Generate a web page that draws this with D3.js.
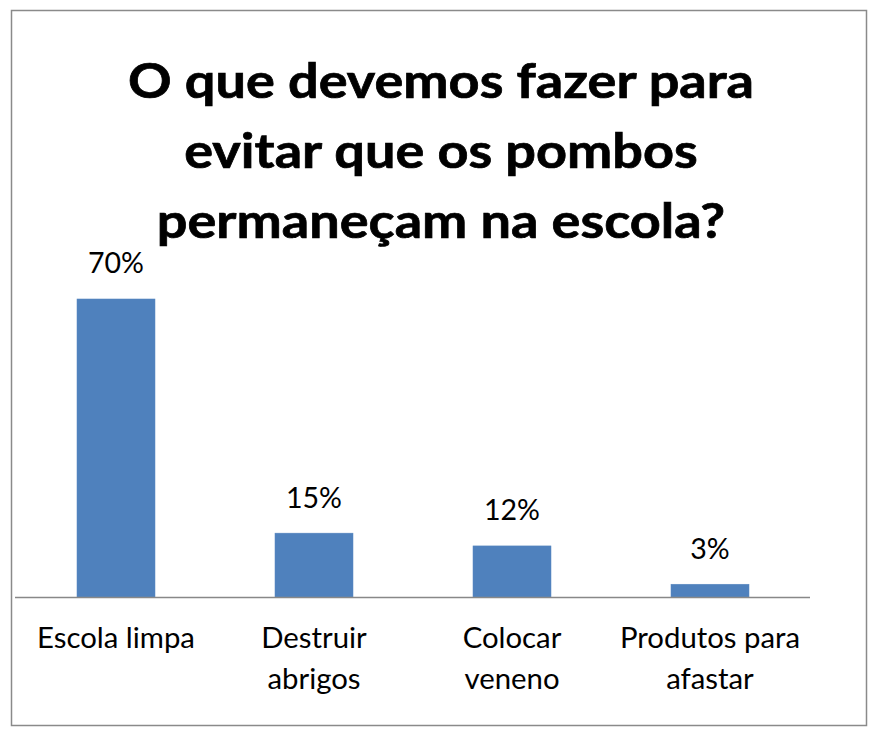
<!DOCTYPE html>
<html><head><meta charset="utf-8">
<script src="https://cdn.jsdelivr.net/npm/d3@7"></script>
<style>body{margin:0;background:#fff}svg{display:block}</style>
</head><body>
<script>
const categories = [["Escola limpa"], ["Destruir", "abrigos"], ["Colocar", "veneno"], ["Produtos para", "afastar"]];
const values = [70, 15, 12, 3];
const valueLabels = ["70%", "15%", "12%", "3%"];
const titleLines = ["O que devemos fazer para", "evitar que os pombos", "permaneçam na escola?"];

const W = 875, H = 736;
const svg = d3.select("body").append("svg").attr("width", W).attr("height", H);
const font = "Lato, 'Open Sans', sans-serif";

svg.append("rect").attr("x", 11.5).attr("y", 10.5).attr("width", 855).attr("height", 715)
  .attr("fill", "#fff").attr("stroke", "#8a8a8a").attr("stroke-width", 1.5);

const keys = categories.map(c => c.join(" "));
const x = d3.scaleBand().domain(keys).range([17, 809]).paddingInner(0.606).paddingOuter(0.303);
const y = d3.scaleLinear().domain([0, 80]).range([597, 256.4]);

// title
const tl = svg.append("g").selectAll("text").data(titleLines).join("text")
  .attr("x", 441).attr("y", (d, i) => 98 + i * 70)
  .attr("text-anchor", "middle").attr("font-family", font).attr("font-weight", "bold")
  .attr("font-size", 48).attr("fill", "#000").attr("stroke", "#000").attr("stroke-width", 0.7)
  .text(d => d);
const w0 = tl.nodes()[0].getComputedTextLength();
const tk = 626 / w0;
tl.each(function() { const n = this; d3.select(n).attr("textLength", n.getComputedTextLength() * tk).attr("lengthAdjust", "spacingAndGlyphs"); });

// bars
svg.selectAll("rect.bar").data(values).join("rect").attr("class", "bar")
  .attr("x", (d, i) => x(keys[i])).attr("width", x.bandwidth())
  .attr("y", d => y(d)).attr("height", d => y(0) - y(d))
  .attr("fill", "#4F81BD").attr("stroke", "#5a88c0").attr("stroke-width", 0.5);

// value labels
const vl = svg.selectAll("text.val").data(values).join("text").attr("class", "val")
  .attr("x", (d, i) => x(keys[i]) + x.bandwidth() / 2).attr("y", d => y(d) - 25.5)
  .attr("text-anchor", "middle").attr("font-family", font).attr("font-size", 23)
  .attr("fill", "#000").text((d, i) => valueLabels[i]);
const vw = vl.nodes()[0].getComputedTextLength();
vl.attr("font-size", 23 * 56 / vw);

// axis
const ax = svg.append("g").attr("transform", `translate(0,${y(0)})`)
  .call(d3.axisBottom(x).tickSize(0).tickFormat(""));
ax.select(".domain").attr("stroke", "#888").attr("stroke-width", 1.5).attr("d", "M15,0.5H810");

const cl = svg.selectAll("text.cat").data(categories).join("text").attr("class", "cat")
  .attr("text-anchor", "middle").attr("font-family", font).attr("font-size", 24).attr("fill", "#000");
cl.each(function(d, i) {
  const t = d3.select(this);
  d.forEach((line, j) => t.append("tspan").attr("x", x(keys[i]) + x.bandwidth() / 2)
    .attr("y", 648 + j * 41).text(line));
});
const cw = cl.nodes()[0].getComputedTextLength();
cl.attr("font-size", 24 * 158 / cw);
</script>
</body></html>
